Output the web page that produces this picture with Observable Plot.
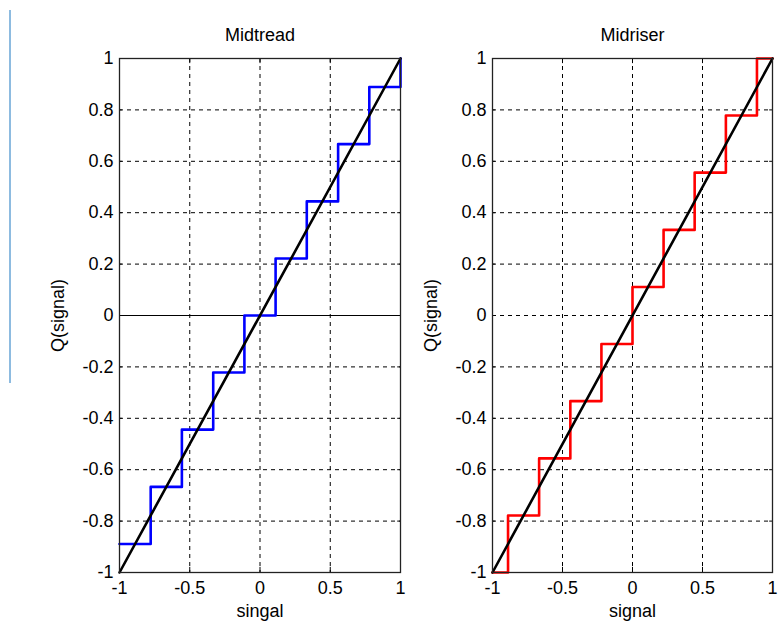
<!DOCTYPE html>
<html>
<head>
<meta charset="utf-8">
<script src="https://cdn.jsdelivr.net/npm/d3@7"></script>
<script src="https://cdn.jsdelivr.net/npm/@observablehq/plot@0.6"></script>
<style>
  body { margin: 0; background: #fff; }
  #wrap { position: relative; width: 779px; height: 629px; background: #fff; overflow: hidden; }
  #wrap svg { position: absolute; top: 0; }
  #bar { position: absolute; left: 9px; top: 10px; width: 2px; height: 373px; background: #8dbbe0; }
</style>
</head>
<body>
<div id="wrap"><div id="bar"></div></div>
<script>
// tick values
const xTicks = [-1, -0.5, 0, 0.5, 1];
const yTicks = [-1, -0.8, -0.6, -0.4, -0.2, 0, 0.2, 0.4, 0.6, 0.8, 1];

// ideal line y = x
const idealSignal = [-1, 1];
const idealQ = [-1, 1];

// Midtread staircase (step-after breakpoints and levels)
const midtreadX = [-1, -0.778, -0.556, -0.333, -0.111, 0.111, 0.333, 0.556, 0.778, 1];
const midtreadQ = [-0.889, -0.667, -0.444, -0.222, 0, 0.222, 0.444, 0.667, 0.889, 1];

// Midriser staircase
const midriserX = [-1, -0.889, -0.667, -0.444, -0.222, 0, 0.222, 0.444, 0.667, 0.889, 1];
const midriserQ = [-1, -0.778, -0.556, -0.333, -0.111, 0.111, 0.333, 0.556, 0.778, 1, 1];

const fmt = d => String(d);
const FONT = "'Liberation Sans', Arial, sans-serif";

function panel({title, xlabel, sx, sq, color, solidZero, width, marginLeft, marginRight, left}) {
  const stair = sx.map((x, i) => ({x, q: sq[i]}));
  const ideal = idealSignal.map((x, i) => ({x, q: idealQ[i]}));
  const marks = [
    Plot.ruleX(xTicks.slice(1, -1), {stroke: "black", strokeWidth: 1, strokeDasharray: "4,4"}),
    Plot.ruleY(yTicks.slice(1, -1).filter(d => !(solidZero && d === 0)), {stroke: "black", strokeWidth: 1, strokeDasharray: "4,4"}),
    // inner tick marks
    Plot.ruleX(xTicks, {y1: -1, y2: -0.98, stroke: "black"}),
    Plot.ruleX(xTicks, {y1: 0.98, y2: 1, stroke: "black"}),
    Plot.ruleY(yTicks, {x1: -1, x2: -0.98, stroke: "black"}),
    Plot.ruleY(yTicks, {x1: 0.98, x2: 1, stroke: "black"}),
  ];
  if (solidZero) marks.push(Plot.ruleY([0], {stroke: "black", strokeWidth: 1.2}));
  marks.push(
    Plot.line(stair, {x: "x", y: "q", curve: "step-after", stroke: color, strokeWidth: 2.6, clip: false}),
    Plot.line(ideal, {x: "x", y: "q", stroke: "black", strokeWidth: 2.6}),
    Plot.frame({stroke: "#222", strokeWidth: 1.3}),
    Plot.axisX(xTicks, {tickSize: 0, tickPadding: 9, tickFormat: fmt, label: null}),
    Plot.axisY(yTicks, {tickSize: 0, tickPadding: 6, tickFormat: fmt, label: null}),
    Plot.text([title], {frameAnchor: "top", dy: -23, lineAnchor: "middle", fontSize: 18}),
    Plot.text([xlabel], {frameAnchor: "bottom", dy: 39, lineAnchor: "middle", fontSize: 18}),
    Plot.text(["Q(signal)"], {frameAnchor: "left", dx: -61, rotate: -90, lineAnchor: "middle", textAnchor: "middle", fontSize: 18})
  );
  const svg = Plot.plot({
    width, height: 629,
    marginTop: 58, marginBottom: 57, marginLeft, marginRight,
    x: {domain: [-1, 1], axis: null},
    y: {domain: [-1, 1], axis: null},
    style: {fontSize: "18px", fontFamily: FONT, color: "black", background: "transparent"},
    marks
  });
  svg.style.left = left + "px";
  document.getElementById("wrap").appendChild(svg);
}

panel({title: "Midtread", xlabel: "singal", sx: midtreadX, sq: midtreadQ, color: "#0000ff",
       solidZero: true, width: 410, marginLeft: 119, marginRight: 10, left: 0});
panel({title: "Midriser", xlabel: "signal", sx: midriserX, sq: midriserQ, color: "#ff0000",
       solidZero: false, width: 399, marginLeft: 112, marginRight: 7, left: 380});
</script>
</body>
</html>
